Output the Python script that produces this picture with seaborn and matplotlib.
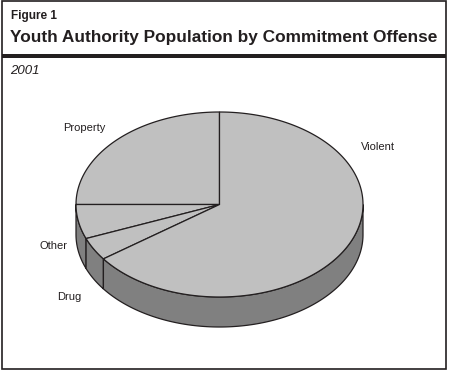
import numpy as np
import matplotlib.pyplot as plt
import seaborn as sns
from matplotlib.patches import Polygon, Rectangle

sns.set_theme(style="white")
plt.rcParams['font.family'] = ['Liberation Sans', 'DejaVu Sans']

# Commitment offense shares (percent), drawn counterclockwise from 12 o'clock
categories = ['Property', 'Other', 'Drug', 'Violent']
shares = [25, 6, 4, 65]

fig_label = 'Figure 1'
title = 'Youth Authority Population by Commitment Offense'
subtitle = '2001'

# pie geometry in pixel space
cx, cy = 219.5, 204.5
rx, ry = 143.5, 92.5
depth = 30
top_color = '#c0c0c0'
side_color = '#808080'
ink = '#231f20'

label_pos = {'Property': (63, 128), 'Other': (39, 246),
             'Drug': (57, 297), 'Violent': (361, 147)}


def arc(t1, t2, dy=0.0):
    ts = np.radians(np.linspace(t1, t2, max(int(abs(t2 - t1)) * 2, 4)))
    return np.column_stack([cx + rx * np.cos(ts), cy + dy - ry * np.sin(ts)])


fig = plt.figure(figsize=(4.5, 3.71), dpi=100)
ax = fig.add_axes([0, 0, 1, 1])
ax.set_xlim(0, 450)
ax.set_ylim(371, 0)
ax.axis('off')

edges = 90 + 360 * np.concatenate([[0], np.cumsum(shares)]) / sum(shares)

# side wall (front half only)
for t1, t2 in zip(edges[:-1], edges[1:]):
    for shift in (0, 360):
        lo, hi = max(t1 - shift, 180), min(t2 - shift, 360)
        if hi > lo:
            pts = np.vstack([arc(lo, hi), arc(hi, lo, depth)])
            ax.add_patch(Polygon(pts, closed=True, fc=side_color, ec=ink, lw=0.9, zorder=2))

# top face
for t1, t2 in zip(edges[:-1], edges[1:]):
    pts = np.vstack([[cx, cy], arc(t1, t2)])
    ax.add_patch(Polygon(pts, closed=True, fc=top_color, ec=ink, lw=0.9, zorder=3))

for name in categories:
    x, y = label_pos[name]
    ax.text(x, y, name, fontsize=8, color=ink, ha='left', va='center')

# frame and header
ax.add_patch(Rectangle((2, 1), 444, 367.5, fill=False, ec=ink, lw=1.2, zorder=5))
ax.add_patch(Rectangle((2, 53.5), 444, 4.5, fc=ink, ec='none', zorder=5))
ax.text(11, 19.5, fig_label, fontsize=8.5, fontweight='bold', color=ink, va='baseline')
ax.text(10, 42, title, fontsize=12.45, fontweight='bold', color=ink, va='baseline')
ax.text(10, 74, subtitle, fontsize=9.5, style='italic', color=ink, va='baseline')

fig.savefig('out.png', dpi=100)
plt.close('all')
